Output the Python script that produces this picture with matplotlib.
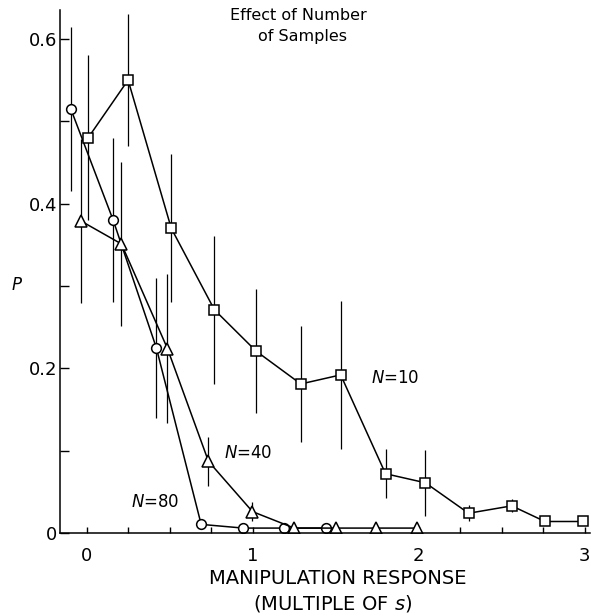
import matplotlib
matplotlib.use("Agg")
import matplotlib.pyplot as plt
from matplotlib.ticker import MultipleLocator, FixedLocator

# ---- data ----
n10_x = [0.01, 0.25, 0.51, 0.77, 1.02, 1.29, 1.53, 1.80, 2.04, 2.30, 2.56, 2.76, 2.99]
n10_p = [0.48, 0.55, 0.37, 0.271, 0.221, 0.181, 0.192, 0.072, 0.061, 0.024, 0.033, 0.014, 0.014]
n10_err = [0.10, 0.08, 0.09, 0.09, 0.075, 0.07, 0.09, 0.03, 0.04, 0.01, 0.008, 0.0, 0.0]

n40_x = [-0.035, 0.21, 0.487, 0.734, 0.999, 1.25, 1.50, 1.74, 1.99]
n40_p = [0.379, 0.351, 0.224, 0.087, 0.026, 0.006, 0.006, 0.006, 0.006]
n40_err = [0.10, 0.10, 0.09, 0.03, 0.012, 0.0, 0.0, 0.0, 0.0]

n80_x = [-0.095, 0.16, 0.42, 0.69, 0.943, 1.19, 1.44]
n80_p = [0.515, 0.38, 0.225, 0.0105, 0.006, 0.006, 0.006]
n80_err = [0.10, 0.10, 0.085, 0.0, 0.0, 0.0, 0.0]

y_major = [0, 0.2, 0.4, 0.6]
y_labels = ["0", "0.2", "0.4", "0.6"]
x_major = [0, 1, 2, 3]

fig = plt.figure(figsize=(5.91, 6.16), dpi=100)
ax = fig.add_axes([0.1015, 0.1347, 0.8965, 0.849])

series = [
    (n80_x, n80_p, n80_err, "o", 7),
    (n40_x, n40_p, n40_err, "^", 9),
    (n10_x, n10_p, n10_err, "s", 7),
]
for xs, ps, errs, mk, ms in series:
    ax.errorbar(xs, ps, yerr=errs, fmt="-", color="black", lw=1.1,
                elinewidth=0.9, capsize=0, marker=mk, ms=ms,
                mfc="white", mec="black", mew=1.1)

ax.set_xlim(-0.16, 3.03)
ax.set_ylim(0, 0.635)

ax.spines["top"].set_visible(False)
ax.spines["right"].set_visible(False)
for s in ("left", "bottom"):
    ax.spines[s].set_linewidth(1.1)

ax.xaxis.set_major_locator(FixedLocator(x_major))
ax.xaxis.set_minor_locator(MultipleLocator(0.25))
ax.set_xticklabels([str(v) for v in x_major])
ax.yaxis.set_major_locator(FixedLocator(y_major))
ax.yaxis.set_minor_locator(FixedLocator([0.1, 0.3, 0.5]))
ax.set_yticklabels(y_labels)

ax.tick_params(axis="x", which="both", direction="in", length=4, width=1, pad=10, labelsize=13)
ax.tick_params(axis="y", which="both", direction="in", length=6.5, width=1, pad=2, labelsize=13)

# series labels
ax.text(1.71, 0.188, "$N$=10", fontsize=12, va="center", ha="left")
ax.text(0.83, 0.097, "$N$=40", fontsize=12, va="center", ha="left")
ax.text(0.27, 0.038, "$N$=80", fontsize=12, va="center", ha="left")

# y label
fig.text(17 / 591, 1 - 285 / 616, "$P$", fontsize=12, ha="center", va="center")

# title block
fig.text(298 / 591, 1 - 15 / 616, "Effect of Number", fontsize=11.5, ha="center", va="center")
fig.text(303 / 591, 1 - 37 / 616, "of Samples", fontsize=11.5, ha="center", va="center")

# x label (two lines)
fig.text(338 / 591, 1 - 578 / 616, "MANIPULATION RESPONSE", fontsize=14, ha="center", va="center")
fig.text(333 / 591, 1 - 603 / 616, "(MULTIPLE OF $s$)", fontsize=14, ha="center", va="center")

fig.savefig("out.png", dpi=100)
